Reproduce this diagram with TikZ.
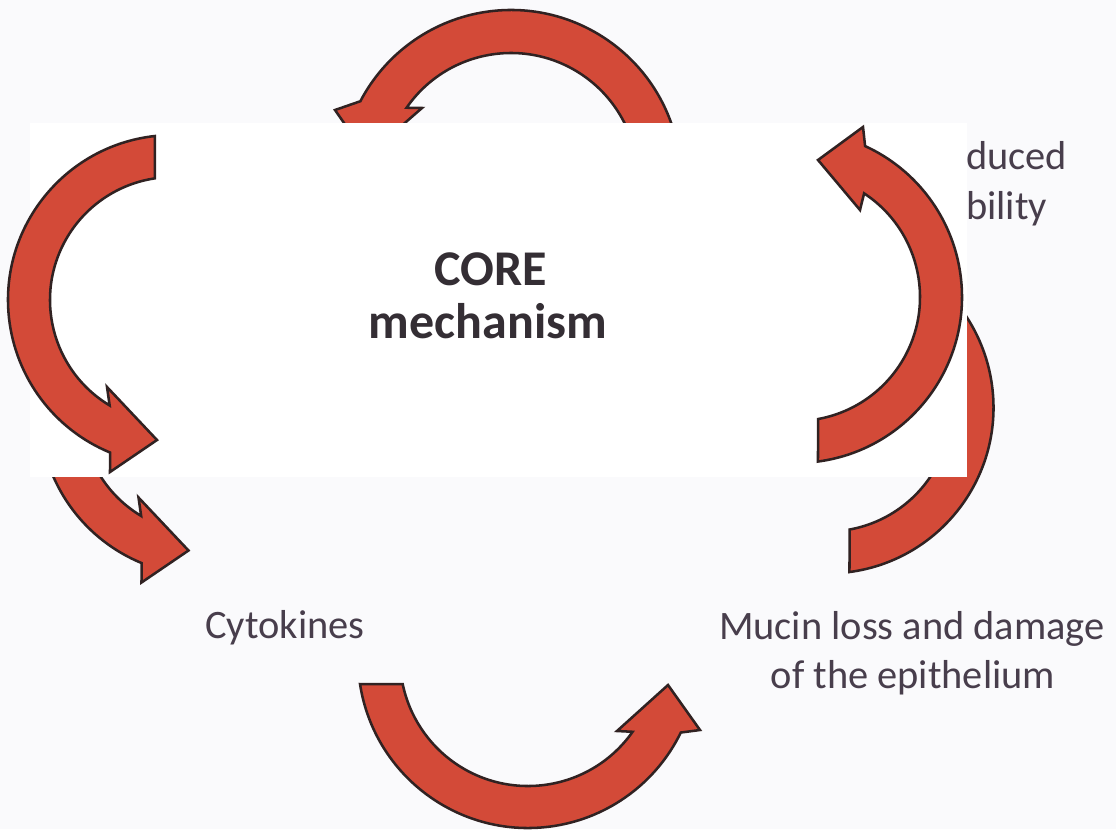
\documentclass[tikz,border=0pt]{standalone}
\usepackage{fontspec}
\setmainfont{Carlito}
\definecolor{arrowred}{RGB}{211,74,56}
\definecolor{arrowedge}{RGB}{48,34,34}
\definecolor{labelgrey}{RGB}{72,62,76}
\definecolor{coregrey}{RGB}{52,46,52}
\definecolor{pagebg}{RGB}{250,250,252}
% curved arrow shapes, pixel units (y down)
\newcommand{\leftcurl}{([shift={(263.7:165)}]173,300) arc[start angle=263.7, end angle=112.4, radius=165] -- (110,472) -- (157,440) -- (107,387) -- ([shift={(121:123)}]173,300) arc[start angle=121, end angle=261.5, radius=123] -- cycle}
\newcommand{\rightcurl}{([shift={(82.4:166)}]796,297) arc[start angle=82.4, end angle=-65.4, radius=166] -- (863,127) -- (818,160) -- (860,210) -- ([shift={(-56.7:124)}]796,297) arc[start angle=-56.7, end angle=79.7, radius=124] -- cycle}
\begin{document}
\begin{tikzpicture}[x=0.75pt, y=-0.75pt, line join=miter,
		arrowbody/.style={fill=arrowred, draw=arrowedge, line width=1.9pt},
		plaintext/.style={text=labelgrey, inner sep=0pt, font=\fontsize{30.3}{36}\selectfont},
		coretext/.style={text=coregrey, inner sep=0pt, font=\fontsize{37.5}{44}\selectfont\bfseries}]
	\useasboundingbox (0,0) rectangle (1116,829);
	\fill[pagebg] (0,0) rectangle (1116,829);
	% the cycle underneath
	\coordinate (ctop) at (511,180);
	\coordinate (cbot) at (528,658);
	\draw[arrowbody] ([shift={(350:170)}]ctop) arc[start angle=350, end angle=207.6, radius=170] -- (335,110) -- (367,156) -- (422,108) -- ([shift={(214.7:127)}]ctop) arc[start angle=214.7, end angle=350, radius=127] -- cycle;
	\draw[arrowbody] ([shift={(171.2:170)}]cbot) arc[start angle=171.2, end angle=26, radius=170] -- (700,730) -- (668,685) -- (617,731) -- ([shift={(35.2:128)}]cbot) arc[start angle=35.2, end angle=168.2, radius=128] -- cycle;
	\begin{scope}[shift={(31.5,110.5)}]
		\draw[arrowbody] \leftcurl;
		\draw[arrowbody] \rightcurl;
	\end{scope}
	\node[plaintext, anchor=base] (cyto) at (285,638) {Cytokines};
	\node[plaintext, anchor=base] (mucin) at (912,639) {Mucin loss and damage};
	\node[plaintext, anchor=base] (epith) at (913,688) {of the epithelium};
	\node[plaintext, anchor=base west] (duced) at (966,169) {duced};
	\node[plaintext, anchor=base west] (bility) at (966,219) {bility};
	% pasted panel on top
	\fill[white] (30,123) rectangle (967,477);
	\draw[arrowbody] \leftcurl;
	\draw[arrowbody] \rightcurl;
	\node[coretext, anchor=base] (core) at (491,285) {CORE};
	\node[coretext, anchor=base] (mech) at (488,338) {mechanism};
\end{tikzpicture}
\end{document}
